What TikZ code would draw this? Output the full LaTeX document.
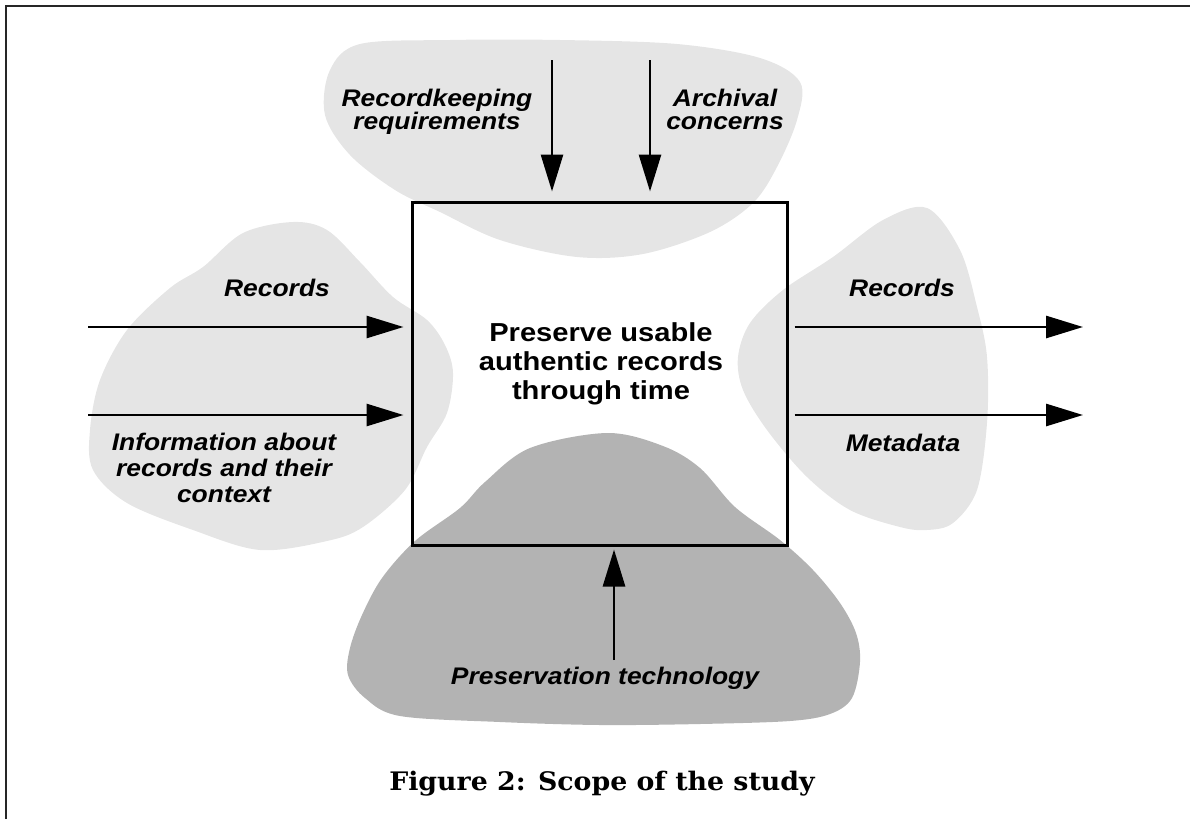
\documentclass[tikz,border=0pt]{standalone}
\usepackage{fontspec}
\usetikzlibrary{arrows.meta}
\newfontfamily\labfont[FakeStretch=1.1]{Liberation Sans}
\newfontfamily\procfont[FakeStretch=1.12]{Liberation Sans}
\newfontfamily\capfont[FakeStretch=1.05]{DejaVu Serif}
\definecolor{paleblob}{gray}{0.898}
\definecolor{darkblob}{gray}{0.702}

\begin{document}
\begin{tikzpicture}[x=1pt,y=-1pt,
  lab/.style={font=\labfont\bfseries\itshape\fontsize{24}{22.7}\selectfont, align=center, inner sep=0pt},
  proctext/.style={font=\procfont\bfseries\fontsize{26}{29}\selectfont, align=center, inner sep=0pt},
  flow/.style={line width=2.8pt, -{Triangle[length=37pt,width=22pt]}},
  frame/.style={line width=2pt, black!85},
  blobsmooth/.style={smooth cycle, tension=0.55}]
\useasboundingbox (0,0) rectangle (1190,819);

% page frame
\draw[frame] (6,819) -- (6,5.5) -- (1190,5.5);

% pale regions: constraints above, inputs left, outputs right
\fill[paleblob] plot[blobsmooth] coordinates {
  (360,44) (450,40) (560,40) (677,44) (760,58) (800,82) (797,120) (777,167)
  (753,203) (710,232) (643,254) (577,257) (500,240) (440,212) (395,190)
  (350,155) (325,115) (330,70)};
\fill[paleblob] plot[blobsmooth] coordinates {
  (203,267) (243,233) (293,222) (327,230) (360,262) (393,297) (427,320)
  (445,345) (453,373) (447,413) (427,447) (405,490) (363,527) (327,541)
  (260,550) (193,530) (127,503) (93,470) (90,430) (100,380) (127,330) (170,288)};
\fill[paleblob] plot[blobsmooth] coordinates {
  (927,208) (960,250) (977,307) (987,357) (987,423) (977,490) (953,523)
  (927,530) (900,527) (850,510) (807,477) (767,430) (743,390) (738,357)
  (750,323) (783,290) (833,257) (883,220)};
% dark region: mechanisms below
\fill[darkblob] plot[blobsmooth] coordinates {
  (607,433) (663,446) (700,468) (735,507) (780,540) (813,570) (840,603)
  (856,633) (860,662) (852,698) (830,714) (790,721) (700,724) (600,725)
  (500,722) (400,716) (365,698) (348,675) (350,648) (362,615) (382,578)
  (415,541) (460,508) (485,482) (530,448)};

% the activity box
\node[draw, line width=3pt, minimum width=375pt, minimum height=343pt, inner sep=0pt]
  (proc) at (599.5,373.5) {};
\node[proctext] (proclabel) at (601,363.8)
  {Preserve usable\\authentic records\\through time};

% controls
\node[lab] (rkreq) at (437,111.7) {Recordkeeping\\requirements};
\node[lab] (archc) at (725,109.2) {Archival\\concerns};
\coordinate (rkin) at (552,60);
\coordinate (acin) at (650,60);
\draw[flow, shorten >=9pt] (rkin) -- (rkin |- proc.north);
\draw[flow, shorten >=9pt] (acin) -- (acin |- proc.north);

% inputs
\node[lab, anchor=base] (recinlab) at (277,296) {Records};
\node[lab, font=\labfont\bfseries\itshape\fontsize{24}{26}\selectfont] (infolab)
  at (224,468.3) {Information about\\records and their\\context};
\coordinate (recin) at (88,327);
\coordinate (infoin) at (88,415);
\draw[flow, shorten >=7pt] (recin) -- (recin -| proc.west);
\draw[flow, shorten >=7pt] (infoin) -- (infoin -| proc.west);

% outputs
\node[lab, anchor=base] (recoutlab) at (902,296) {Records};
\node[lab, anchor=base] (metalab) at (903,451) {Metadata};
\coordinate (recout) at (1083,327);
\coordinate (metaout) at (1083,415);
\draw[flow, shorten <=6pt] (recout -| proc.east) -- (recout);
\draw[flow, shorten <=6pt] (metaout -| proc.east) -- (metaout);

% mechanism
\node[lab, anchor=base] (techlab) at (605,684) {Preservation technology};
\coordinate (techin) at (614,660);
\draw[flow, shorten >=3pt] (techin) -- (techin |- proc.south);

% caption
\node[font=\capfont\bfseries\fontsize{25.5}{30}\selectfont, anchor=base, inner sep=0pt]
  (caption) at (602,790) {Figure 2: Scope of the study};
\end{tikzpicture}
\end{document}
